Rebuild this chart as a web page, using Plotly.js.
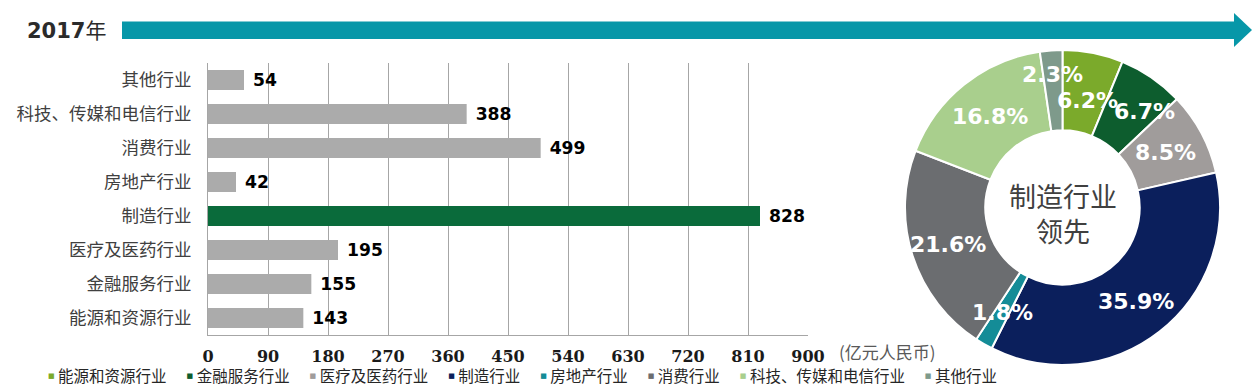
<!DOCTYPE html>
<html>
<head>
<meta charset="utf-8">
<script src="https://cdn.plot.ly/plotly-3.0.1.min.js"></script>
<style>
html,body{margin:0;padding:0;background:#fff;}
#chart{width:1260px;height:388px;}
</style>
</head>
<body>
<div id="chart"></div>
<script>
// ---- data ----
const categories = ['能源和资源行业','金融服务行业','医疗及医药行业','制造行业','房地产行业','消费行业','科技、传媒和电信行业','其他行业'];
const amounts = [143,155,195,828,42,499,388,54];          // 亿元人民币
const shares = [6.2,6.7,8.5,35.9,1.8,21.6,16.8,2.3];        // %
const xTicks = [0,90,180,270,360,450,540,630,720,810,900];
const highlight = '制造行业';
const yearLabel = '2017年';
const unitLabel = '(亿元人民币)';
const centerLines = ['制造行业','领先'];

// ---- styles ----
const sliceColors = ['#7BAA2B','#0D5D2E','#A09C9B','#0B1F5C','#148C97','#6B6D70','#A9CF8D','#7E9A8B'];
const barGray = '#ABABAB', barHi = '#0A6B3B';
const W = 1260, H = 388;
const PX = p => p / W, PY = p => 1 - p / H;
// label placement tweaks (radius px, angle offset deg) per slice
const labelR = [110,126,117,120,121,120,117,133];
const labelDA = [2,6,0,0,0,0,0,0];

const cjk = 'Noto Sans CJK SC';

const bar = {
  type: 'bar', orientation: 'h',
  y: categories, x: amounts,
  width: 0.59,
  marker: {color: categories.map(c => c === highlight ? barHi : barGray)},
  text: amounts.map(v => '\u00a0' + v),
  textposition: 'outside',
  textfont: {family: 'DejaVu Sans', size: 18, weight: 'bold', color: '#000'},
  cliponaxis: false,
  hoverinfo: 'none',
  xaxis: 'x', yaxis: 'y'
};

const pieDom = {x: [PX(905), PX(1220)], y: [PY(365), PY(50)]};
const pie = {
  type: 'pie',
  values: shares, labels: categories,
  sort: false, direction: 'clockwise', rotation: 0,
  hole: 0.49,
  marker: {colors: sliceColors, line: {color: '#fff', width: 2}},
  textinfo: 'none', hoverinfo: 'none',
  domain: pieDom
};

// pie label annotations computed from shares
const cx = 1062.5, cy = 207.5;
const total = shares.reduce((a,b)=>a+b,0);
const annotations = [];
let cum = 0;
shares.forEach((s,i) => {
  const mid = (cum + s/2) / total * 360 + labelDA[i];
  cum += s;
  const a = mid * Math.PI / 180;
  const x = cx + labelR[i] * Math.sin(a);
  const y = cy - labelR[i] * Math.cos(a);
  annotations.push({
    xref: 'paper', yref: 'paper', x: PX(x), y: PY(y),
    xanchor: 'center', yanchor: 'middle', showarrow: false,
    text: s.toFixed(1) + '%',
    font: {family: 'DejaVu Sans', size: 22, weight: 'bold', color: '#fff'}
  });
});

// center text
annotations.push({xref:'paper',yref:'paper',x:PX(cx),y:PY(212.5),xanchor:'center',yanchor:'middle',showarrow:false,
  text: centerLines.join('<br>'), font:{family:cjk,size:27,color:'#404040'}});

// year label
annotations.push({xref:'paper',yref:'paper',x:PX(25),y:PY(31),xanchor:'left',yanchor:'middle',showarrow:false,
  text: '<b>' + yearLabel.slice(0,4) + '</b>' + yearLabel.slice(4),
  font:{family:'DejaVu Sans, ' + cjk,size:21,color:'#2b2b2b'}});

// unit label
annotations.push({xref:'paper',yref:'paper',x:PX(837),y:PY(351),xanchor:'left',yanchor:'middle',showarrow:false,
  text: unitLabel, font:{family:cjk,size:17,color:'#595959'}});

// legend line
const legendText = categories.map((c,i) =>
  '<span style="color:' + sliceColors[i] + ';font-size:7px;font-family:DejaVu Sans;baseline-shift:4px">■</span>\u00a0' + c
).join('\u3000\u00a0\u200a');
annotations.push({xref:'paper',yref:'paper',x:PX(46),y:PY(375),xanchor:'left',yanchor:'middle',showarrow:false,
  text: legendText, font:{family:cjk,size:15.5,color:'#262626'}});

// arrow header
const shapes = [
  {type:'rect', xref:'paper', yref:'paper', x0:PX(122), x1:PX(1235), y0:PY(39), y1:PY(21.5),
   fillcolor:'#0797A8', line:{width:0}, layer:'below'},
  {type:'path', xref:'paper', yref:'paper',
   path:'M '+PX(1234)+','+PY(13)+' L '+PX(1252)+','+PY(30)+' L '+PX(1234)+','+PY(47)+' Z',
   fillcolor:'#0797A8', line:{width:0}, layer:'below'}
];

const layout = {
  width: W, height: H,
  margin: {l:0, r:0, t:0, b:0},
  paper_bgcolor: '#fff', plot_bgcolor: '#fff',
  showlegend: false,
  xaxis: {
    domain: [PX(208), PX(808)], range: [0, 900],
    tickmode: 'array', tickvals: xTicks, ticktext: xTicks.map(String),
    showgrid: false,
    minor: {tickmode: 'array', tickvals: xTicks.slice(1, -1), showgrid: true, gridcolor: '#A6A6A6', gridwidth: 1, ticks: ''},
    showline: true, linecolor: '#A6A6A6', linewidth: 1,
    ticks: 'inside', ticklen: 4, tickcolor: '#A6A6A6',
    ticklabelstandoff: 7,
    tickfont: {family: 'DejaVu Serif', size: 16, weight: 'bold', color: '#1a1a1a'},
    zeroline: false, fixedrange: true, anchor: 'y'
  },
  yaxis: {
    domain: [PY(335), PY(63)],
    type: 'category', categoryorder: 'array', categoryarray: categories,
    range: [-0.5, 7.5],
    showgrid: false, showline: true, linecolor: '#A6A6A6', linewidth: 1,
    ticks: '', ticklabelstandoff: 12,
    tickfont: {family: cjk, size: 17.5, color: '#404040'},
    zeroline: false, fixedrange: true, anchor: 'x'
  },
  annotations: annotations,
  shapes: shapes
};

Plotly.newPlot('chart', [bar, pie], layout, {staticPlot: true, displayModeBar: false});
</script>
</body>
</html>
